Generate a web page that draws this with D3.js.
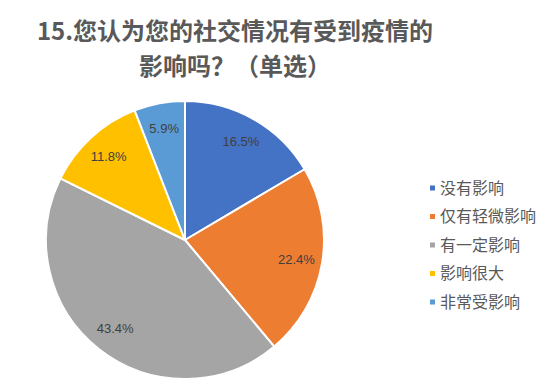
<!DOCTYPE html>
<html><head><meta charset="utf-8">
<script src="https://cdn.jsdelivr.net/npm/d3@7/dist/d3.min.js"></script>
<style>html,body{margin:0;padding:0;background:#fff;}</style>
</head><body>
<svg id="c" width="550" height="388"></svg>
<script>
const titleLines = ["15.您认为您的社交情况有受到疫情的", "影响吗？（单选）"];
const categories = ["没有影响", "仅有轻微影响", "有一定影响", "影响很大", "非常受影响"];
const values = [16.5, 22.4, 43.4, 11.8, 5.9];
const colors = ["#4472C4", "#ED7D31", "#A5A5A5", "#FFC000", "#5B9BD5"];

const svg = d3.select("#c");
const cx = 185, cy = 240, r = 139;
const cjk = "'Noto Sans CJK SC', 'Noto Sans', sans-serif";

svg.append("g").selectAll("text").data(titleLines).join("text")
  .attr("x", 235).attr("y", (d, i) => 40 + i * 35)
  .attr("text-anchor", "middle")
  .attr("font-family", cjk).attr("font-weight", "bold").attr("font-size", 24)
  .attr("fill", "#595959").text(d => d);

const pie = d3.pie().sort(null).value(d => d)(values);
const arc = d3.arc().innerRadius(0).outerRadius(r);
const labelArc = d3.arc().innerRadius(113).outerRadius(113);
const g = svg.append("g").attr("transform", `translate(${cx},${cy})`);
g.selectAll("path").data(pie).join("path")
  .attr("d", arc).attr("fill", (d, i) => colors[i])
  .attr("stroke", "#fff").attr("stroke-width", 2).attr("stroke-linejoin", "round");
g.selectAll("text").data(pie).join("text")
  .attr("transform", d => `translate(${labelArc.centroid(d)})`)
  .attr("text-anchor", "middle").attr("dy", "0.35em")
  .attr("font-family", "'Liberation Sans', Arial, sans-serif").attr("font-size", 13)
  .attr("fill", "#404040").text(d => d.data.toFixed(1) + "%");

const leg = svg.append("g").selectAll("g").data(categories).join("g")
  .attr("transform", (d, i) => `translate(430,${188 + i * 28.5})`);
leg.append("rect").attr("x", 0).attr("y", -2.5).attr("width", 5).attr("height", 5)
  .attr("fill", (d, i) => colors[i]);
leg.append("text").attr("x", 10).attr("dy", "0.35em")
  .attr("font-family", cjk).attr("font-size", 16).attr("fill", "#595959").text(d => d);
</script>
</body></html>
